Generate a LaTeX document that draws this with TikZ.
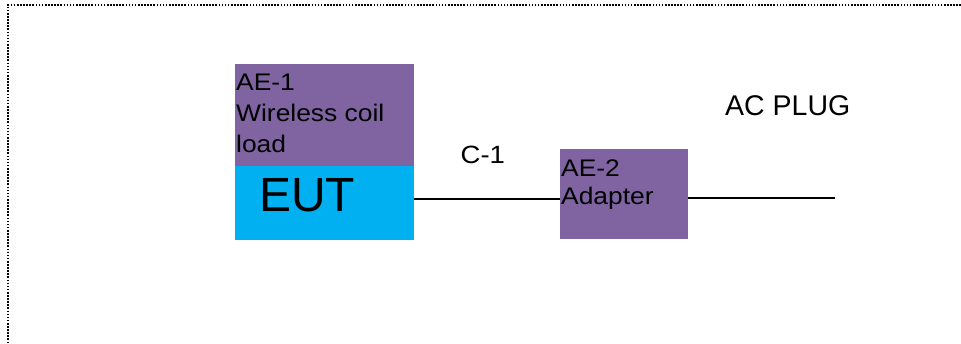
\documentclass[tikz,border=0pt]{standalone}
\usepackage{fontspec}
\setmainfont{Liberation Sans}
\newfontfamily\widesans{Liberation Sans}[FakeStretch=1.1]
\definecolor{aepurple}{HTML}{8064A2}
\definecolor{eutcyan}{HTML}{00B0F0}
\tikzset{
  box/.style={rectangle, draw=none, inner sep=0pt, outer sep=0pt},
  wire/.style={draw=black, line width=1.3pt},
  frameline/.style={draw=black, line width=1.7pt, dash pattern=on 1.6pt off 1.5pt},
  lbl/.style={inner sep=0pt, anchor=base west, align=left},
}
\begin{document}
\begin{tikzpicture}[x=1pt,y=-1pt]
\useasboundingbox (0,0) rectangle (961,344);
% dotted frame (top and left)
\coordinate (fr) at (961,5);
\coordinate (ftl) at (8,5);
\coordinate (fbl) at (8,343);
\draw[frameline] (fr) -- (ftl) -- (fbl);
% boxes
\node[box, fill=aepurple, minimum width=179pt, minimum height=102pt, anchor=north west] (ae1) at (235,64) {};
\node[box, fill=eutcyan, minimum width=179pt, minimum height=74pt, anchor=north west] (eut) at (235,166) {};
\node[box, fill=aepurple, minimum width=128pt, minimum height=90pt, anchor=north west] (ae2) at (560,149) {};
% texts
\node[lbl, font=\widesans\fontsize{24}{30.8}\selectfont] (ae1t) at (236,152.3) {AE-1\\Wireless coil\\load};
\node[lbl, font=\fontsize{48}{52}\selectfont] (eutt) at (259,212) {EUT};
\node[lbl, font=\widesans\fontsize{24}{28}\selectfont] (ae2t) at (561,205) {AE-2\\Adapter};
\node[lbl, font=\widesans\fontsize{25}{28}\selectfont] (c1) at (460.5,163.3) {C-1};
\node[lbl, font=\fontsize{28.5}{32}\selectfont] (acp) at (725,116) {AC PLUG};
% wires
\coordinate (plug) at (835,198);
\draw[wire] (eut.east |- 0,199) -- (ae2.west |- 0,199);
\draw[wire] (ae2.east |- 0,198) -- (plug);
\end{tikzpicture}
\end{document}
